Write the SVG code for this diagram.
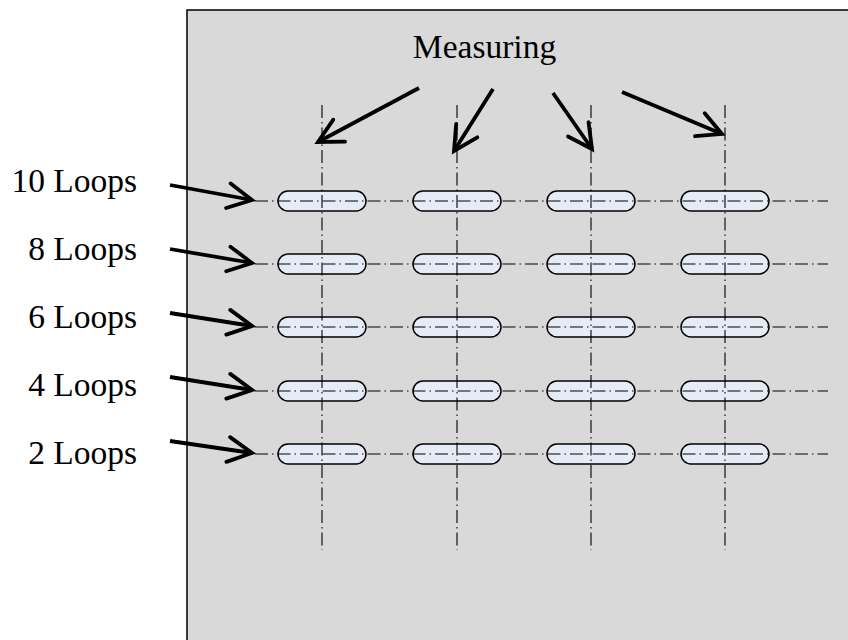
<svg xmlns="http://www.w3.org/2000/svg" width="848" height="640" viewBox="0 0 848 640">
<defs>
<style>
.lbl{font-family:"Liberation Serif","Times New Roman",serif;font-size:33.5px;fill:#000}
.cl{stroke:#000;stroke-width:1.1;stroke-dasharray:13 4 1.5 4;fill:none}
.slot{fill:#e6ecf7;stroke:#000;stroke-width:1.5}
.arr{stroke:#000;stroke-width:3.8;fill:none;marker-end:url(#vh)}
</style>
<marker id="vh" markerUnits="userSpaceOnUse" markerWidth="40" markerHeight="40" viewBox="-30 -20 40 40" refX="0" refY="0" orient="auto">
<path d="M-24,-12.5 L0,0 L-24,12.5" fill="none" stroke="#000" stroke-width="3.8" stroke-linecap="round" stroke-linejoin="miter"/>
</marker>
</defs>
<rect id="plate" x="187" y="10" width="680" height="650" fill="#d9d9d9" stroke="#000" stroke-width="1.5"/>
<g id="slots">
<rect class="slot" x="278" y="191" width="88" height="20" rx="10"/>
<rect class="slot" x="413" y="191" width="88" height="20" rx="10"/>
<rect class="slot" x="547" y="191" width="88" height="20" rx="10"/>
<rect class="slot" x="681" y="191" width="88" height="20" rx="10"/>
<rect class="slot" x="278" y="254" width="88" height="20" rx="10"/>
<rect class="slot" x="413" y="254" width="88" height="20" rx="10"/>
<rect class="slot" x="547" y="254" width="88" height="20" rx="10"/>
<rect class="slot" x="681" y="254" width="88" height="20" rx="10"/>
<rect class="slot" x="278" y="317" width="88" height="20" rx="10"/>
<rect class="slot" x="413" y="317" width="88" height="20" rx="10"/>
<rect class="slot" x="547" y="317" width="88" height="20" rx="10"/>
<rect class="slot" x="681" y="317" width="88" height="20" rx="10"/>
<rect class="slot" x="278" y="381" width="88" height="20" rx="10"/>
<rect class="slot" x="413" y="381" width="88" height="20" rx="10"/>
<rect class="slot" x="547" y="381" width="88" height="20" rx="10"/>
<rect class="slot" x="681" y="381" width="88" height="20" rx="10"/>
<rect class="slot" x="278" y="444" width="88" height="20" rx="10"/>
<rect class="slot" x="413" y="444" width="88" height="20" rx="10"/>
<rect class="slot" x="547" y="444" width="88" height="20" rx="10"/>
<rect class="slot" x="681" y="444" width="88" height="20" rx="10"/>
</g>
<g id="centerlines">
<line class="cl" x1="255" y1="201" x2="828" y2="201"/>
<line class="cl" x1="255" y1="264" x2="828" y2="264"/>
<line class="cl" x1="255" y1="327" x2="828" y2="327"/>
<line class="cl" x1="255" y1="391" x2="828" y2="391"/>
<line class="cl" x1="255" y1="454" x2="828" y2="454"/>
<line class="cl" x1="322" y1="105" x2="322" y2="550"/>
<line class="cl" x1="457" y1="105" x2="457" y2="550"/>
<line class="cl" x1="591" y1="105" x2="591" y2="550"/>
<line class="cl" x1="725" y1="105" x2="725" y2="550"/>
</g>
<g id="label-measuring">
<text class="lbl" x="484.5" y="58" text-anchor="middle">Measuring</text>
</g>
<g id="label-10"><text class="lbl" x="137" y="192" text-anchor="end">10 Loops</text></g>
<g id="label-8"><text class="lbl" x="137" y="260" text-anchor="end">8 Loops</text></g>
<g id="label-6"><text class="lbl" x="137" y="328" text-anchor="end">6 Loops</text></g>
<g id="label-4"><text class="lbl" x="137" y="396" text-anchor="end">4 Loops</text></g>
<g id="label-2"><text class="lbl" x="137" y="464" text-anchor="end">2 Loops</text></g>
<g id="connectors">
<line class="arr" x1="170" y1="185" x2="252" y2="200"/>
<line class="arr" x1="170" y1="249" x2="252" y2="263"/>
<line class="arr" x1="170" y1="313" x2="252" y2="326"/>
<line class="arr" x1="170" y1="377" x2="252" y2="390"/>
<line class="arr" x1="170" y1="441" x2="252" y2="453"/>
<line class="arr" x1="419" y1="88" x2="318" y2="142"/>
<line class="arr" x1="493" y1="89" x2="454" y2="151"/>
<line class="arr" x1="553" y1="93" x2="592" y2="149"/>
<line class="arr" x1="622" y1="92" x2="722" y2="134"/>
</g>
</svg>
